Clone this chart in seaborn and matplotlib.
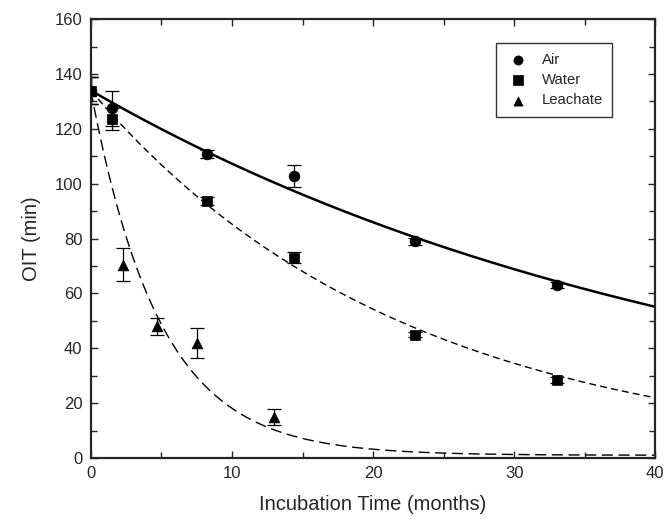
import numpy as np
import pandas as pd
import seaborn as sns
import matplotlib
matplotlib.use('Agg')
import matplotlib.pyplot as plt
from matplotlib.ticker import MultipleLocator

sns.set_style('ticks')
plt.rcParams['font.family'] = ['Liberation Sans', 'DejaVu Sans']

air_t = [0, 1.5, 8.2, 14.4, 23.0, 33.0]
air_oit = [134, 127.5, 110.8, 103.0, 79.0, 63.0]
air_err = [5, 6.5, 1.5, 4.0, 1.2, 1.0]

water_t = [0, 1.5, 8.2, 14.4, 23.0, 33.0]
water_oit = [134, 123.5, 93.8, 73.0, 45.0, 28.5]
water_err = [5, 4.0, 1.5, 2.0, 1.0, 1.0]

leach_t = [0, 2.3, 4.7, 7.5, 13.0]
leach_oit = [134, 70.5, 48.0, 42.0, 15.0]
leach_err = [5, 6.0, 3.0, 5.5, 3.0]

# fitted exponential decay curves: c + (y0 - c) * exp(-k t)
y0 = 134
fits = {'Air': (0.0222, 0.0), 'Water': (0.0452, 0.0), 'Leachate': (0.205, 1.0)}

tt = np.linspace(0, 40, 400)

fig, ax = plt.subplots(figsize=(6.68, 5.19), dpi=100)
fig.subplots_adjust(left=0.136, right=0.981, bottom=0.1175, top=0.963)

styles = {'Air': dict(ls='-', lw=1.8),
          'Water': dict(ls=(0, (5, 3)), lw=1.0),
          'Leachate': dict(ls=(0, (8, 4)), lw=1.0)}
for name, (k, c) in fits.items():
    yy = c + (y0 - c) * np.exp(-k * tt)
    sns.lineplot(x=tt, y=yy, ax=ax, color='black', **styles[name])

series = [('Air', air_t, air_oit, air_err, 'o'),
          ('Water', water_t, water_oit, water_err, 's'),
          ('Leachate', leach_t, leach_oit, leach_err, '^')]
for name, t, v, e, m in series:
    ax.errorbar(t, v, yerr=e, fmt='none', ecolor='black', elinewidth=0.9, capsize=5, capthick=0.9)
    df = pd.DataFrame({'t': t, 'oit': v})
    sns.scatterplot(data=df, x='t', y='oit', ax=ax, marker=m, s=60, color='black',
                    edgecolor='black', linewidth=0.5, label=name, zorder=5)

ax.set_xlim(0, 40)
ax.set_ylim(0, 160)
ax.xaxis.set_major_locator(MultipleLocator(10))
ax.xaxis.set_minor_locator(MultipleLocator(5))
ax.yaxis.set_major_locator(MultipleLocator(20))
ax.yaxis.set_minor_locator(MultipleLocator(10))
ax.tick_params(which='both', direction='in', top=True, right=True, labelsize=12, width=1, pad=6)
ax.tick_params(which='major', length=5)
ax.tick_params(which='minor', length=4)
for sp in ax.spines.values():
    sp.set_linewidth(1.6)

ax.set_xlabel('Incubation Time (months)', fontsize=14.5, labelpad=10)
ax.set_ylabel('OIT (min)', fontsize=14.5, labelpad=10)

leg = ax.legend(loc='upper left', bbox_to_anchor=(0.705, 0.962), frameon=True, fancybox=False,
                edgecolor='black', fontsize=10.7, handletextpad=0.8, borderpad=0.65,
                labelspacing=0.42, handlelength=1.6, markerscale=0.85)
leg.get_frame().set_linewidth(1.0)

fig.savefig('out.png', dpi=100)
